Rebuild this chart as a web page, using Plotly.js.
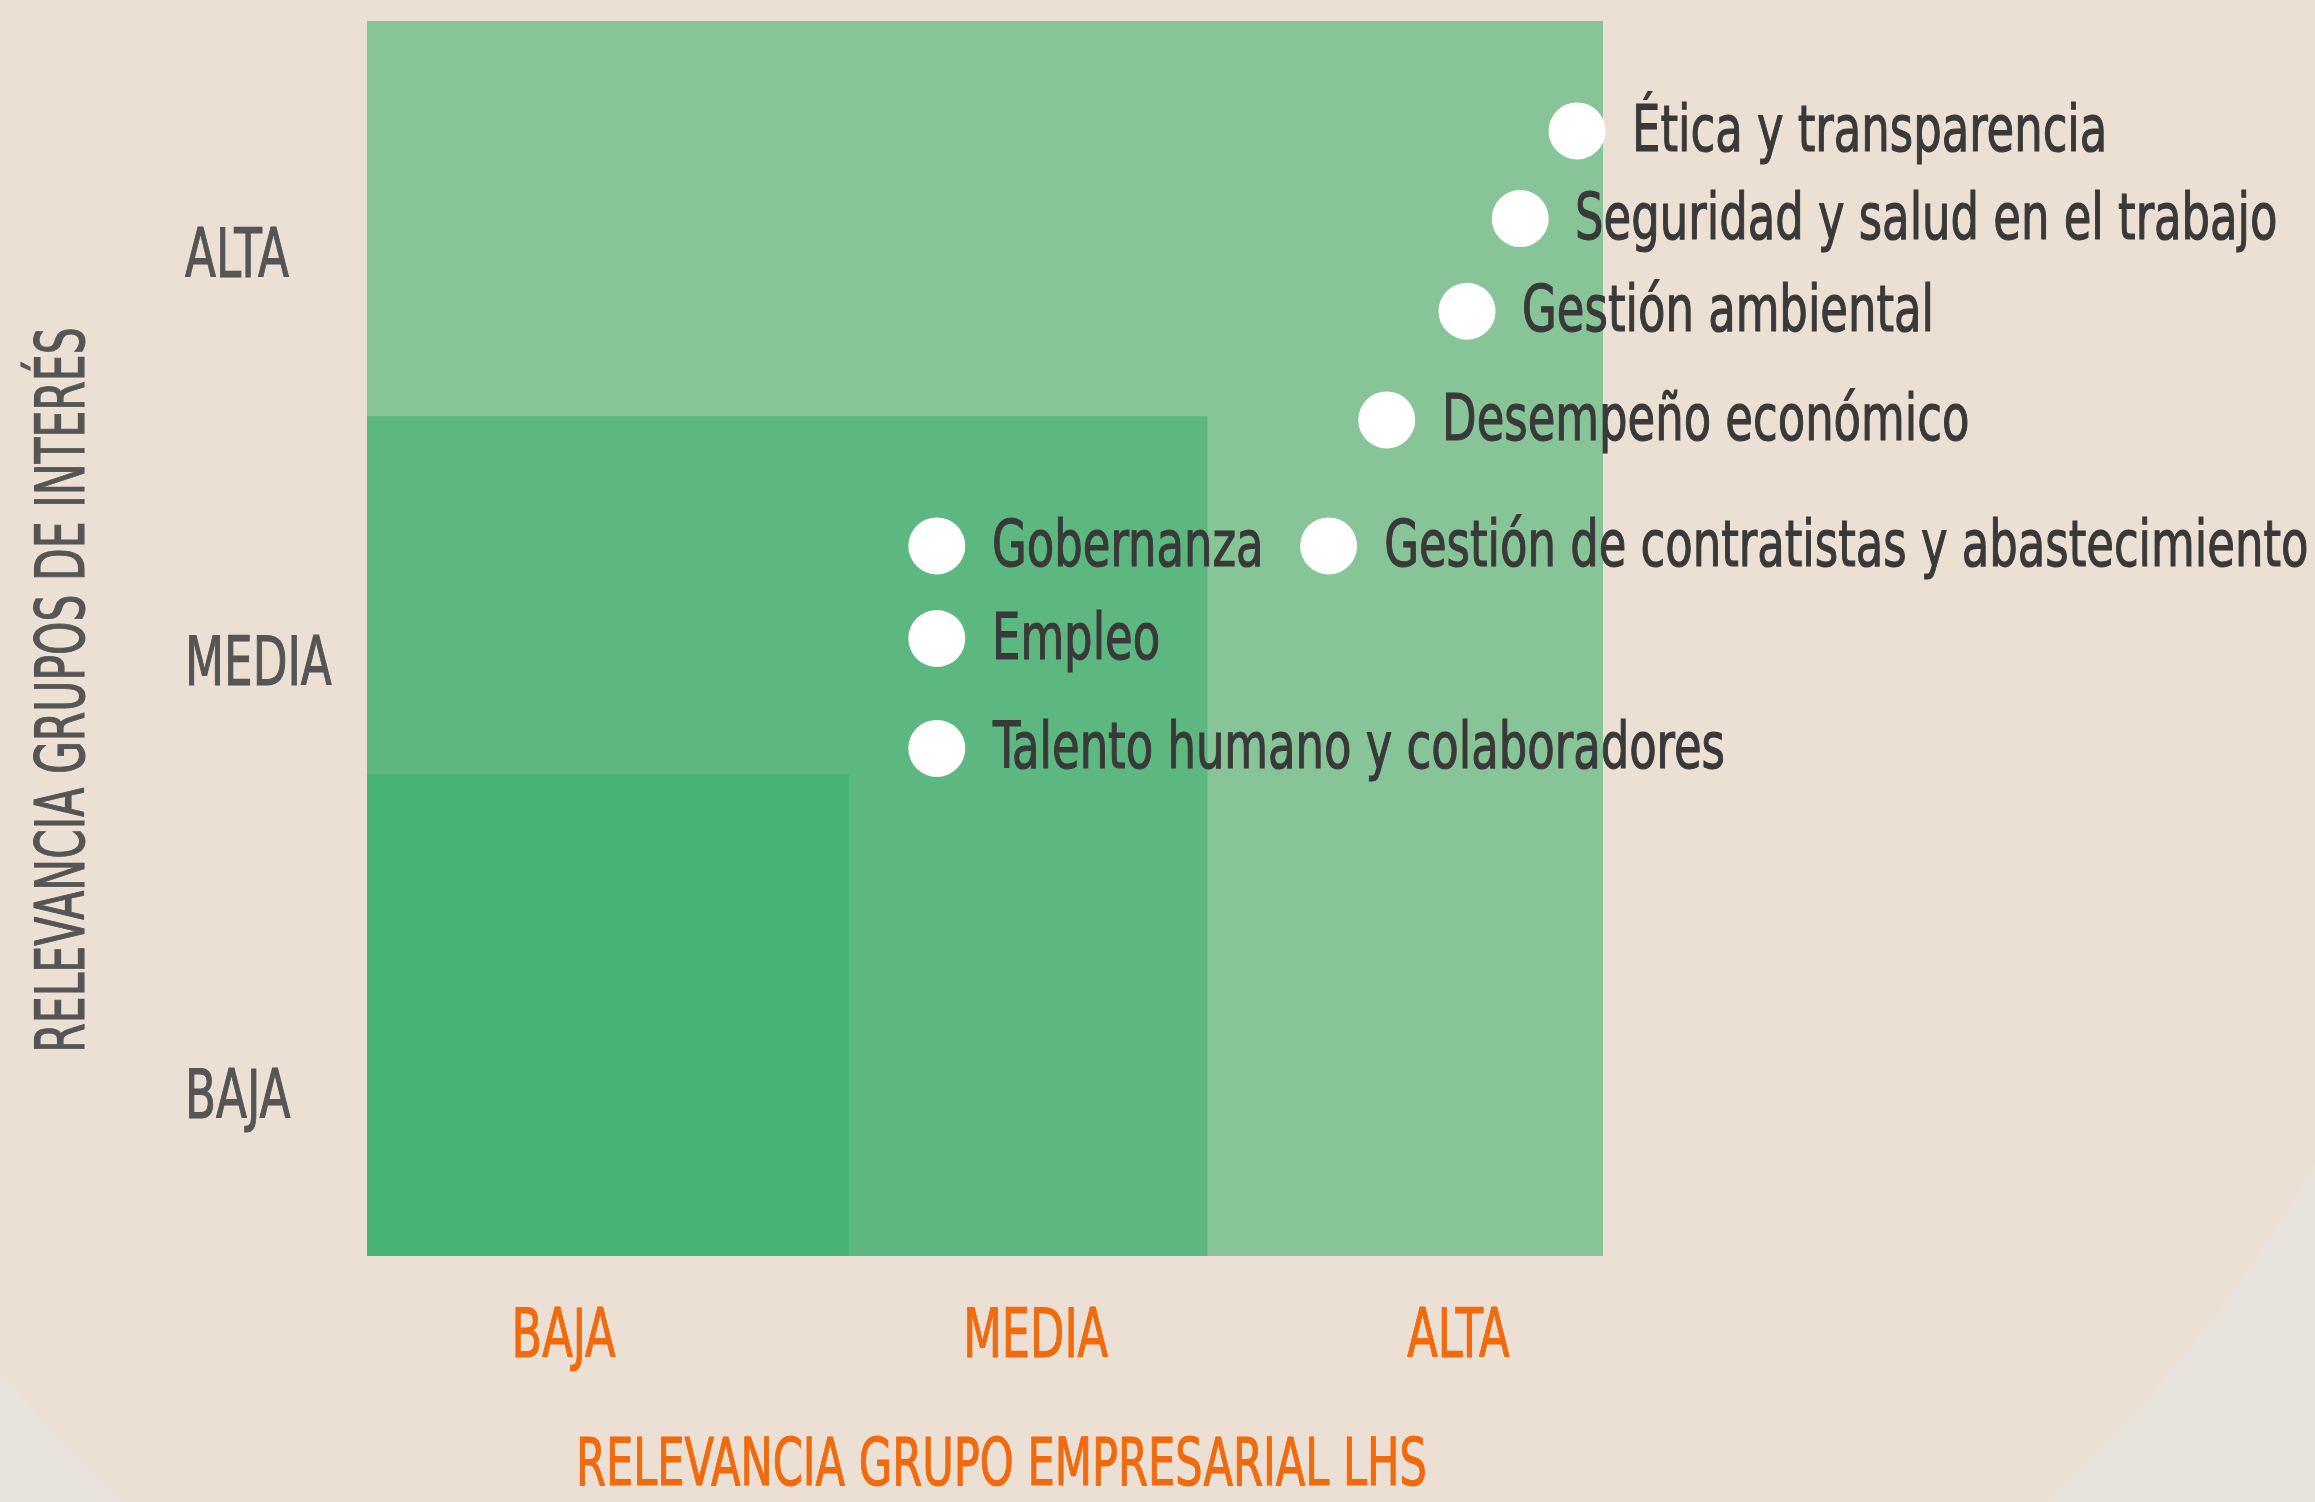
<!DOCTYPE html>
<html>
<head>
<meta charset="utf-8">
<script src="https://cdn.plot.ly/plotly-3.0.1.min.js"></script>
<style>
  html, body { margin: 0; padding: 0; background: #e8e2dd; }
  #chart { width: 2315px; height: 1502px; }
</style>
</head>
<body>
<div id="chart"></div>
<script>
// ---- data ----
const categories = [
  "Ética y transparencia",
  "Seguridad y salud en el trabajo",
  "Gestión ambiental",
  "Desempeño económico",
  "Gestión de contratistas y abastecimiento",
  "Gobernanza",
  "Empleo",
  "Talento humano y colaboradores"
];
const relevanciaEmpresa = [9.79, 9.33, 8.90, 8.25, 7.78, 4.61, 4.61, 4.61];
const relevanciaGrupos  = [9.11, 8.40, 7.65, 6.77, 5.75, 5.75, 5.00, 4.11];
const levelLabels = ["BAJA", "MEDIA", "ALTA"];
const xTickVals = [1.59, 5.41, 8.83];
const yTickVals = [1.31, 4.81, 8.12];
const zoneLimits = [10, 6.8, 3.9];
const xTitle = "RELEVANCIA GRUPO EMPRESARIAL LHS";
const yTitle = "RELEVANCIA GRUPOS DE INTERÉS";

// ---- style ----
const FONT = "'DejaVu Sans Condensed', 'DejaVu Sans', sans-serif";
const zoneColors = ["#87c498", "#5cb880", "#47b374"];
const ORANGE = "#f06a0e";
const GREY = "#555555";
const DARK = "#393939";
const W = 2315, H = 1502;

const shapes = [
  {type: "circle", xref: "paper", yref: "paper", layer: "below",
   x0: (1085 - 1416) / W, x1: (1085 + 1416) / W,
   y0: (H - 462 - 1416) / H, y1: (H - 462 + 1416) / H,
   fillcolor: "#ecdfd3", line: {width: 0}}
];
zoneLimits.forEach((lim, i) => {
  shapes.push({type: "rect", xref: "x", yref: "y", layer: "below",
    x0: 0, x1: lim, y0: 0, y1: lim, fillcolor: zoneColors[i], line: {width: 0}});
});

const annotations = [];
const condensed = []; // [annotation index, pivot, horizontal scale]
categories.forEach((c, i) => {
  condensed.push([annotations.length, "left", 0.78]);
  annotations.push({x: relevanciaEmpresa[i], y: relevanciaGrupos[i], xref: "x", yref: "y",
    text: c, showarrow: false, xanchor: "left", yanchor: "middle", xshift: 53, yshift: 2,
    font: {family: FONT, size: 64, color: DARK}});
});
levelLabels.forEach((t, i) => {
  condensed.push([annotations.length, "left", 0.74]);
  annotations.push({x: 183 / W, y: yTickVals[i], xref: "paper", yref: "y",
    text: t, showarrow: false, xanchor: "left", yanchor: "middle",
    font: {family: FONT, size: 68, color: GREY}});
});
condensed.push([annotations.length, "center", 0.727]);
annotations.push({x: 1001 / W, y: (H - 1462) / H, xref: "paper", yref: "paper",
  text: xTitle, showarrow: false, xanchor: "center", yanchor: "middle",
  font: {family: FONT, size: 66, color: ORANGE}});
condensed.push([annotations.length, "center", 0.695]);
annotations.push({x: 61 / W, y: (H - 690) / H, xref: "paper", yref: "paper",
  text: yTitle, showarrow: false, xanchor: "center", yanchor: "middle", textangle: -90,
  font: {family: FONT, size: 68, color: GREY}});

const trace = {
  type: "scatter", mode: "markers",
  x: relevanciaEmpresa, y: relevanciaGrupos, text: categories,
  marker: {size: 57, color: "#ffffff", line: {width: 0}},
  cliponaxis: false, hoverinfo: "text"
};

const layout = {
  width: W, height: H,
  margin: {l: 0, r: 0, t: 0, b: 0, pad: 0},
  paper_bgcolor: "#e8e2dd",
  plot_bgcolor: "rgba(0,0,0,0)",
  showlegend: false,
  xaxis: {domain: [367 / W, 1603 / W], range: [0, 10], showgrid: false, zeroline: false,
    showline: false, ticks: "", tickvals: xTickVals, ticktext: levelLabels,
    ticklabelstandoff: 32,
    tickfont: {family: FONT, size: 68, color: ORANGE}, fixedrange: true},
  yaxis: {domain: [(H - 1256) / H, (H - 21) / H], range: [0, 10], showgrid: false,
    zeroline: false, showline: false, showticklabels: false, ticks: "", fixedrange: true},
  shapes: shapes,
  annotations: annotations
};

function condense(el, s, pivot) {
  if (el.getAttribute("data-condensed")) return;
  el.setAttribute("data-condensed", "1");
  const bb = el.getBBox();
  const px = pivot === "left" ? bb.x : bb.x + bb.width / 2;
  const prev = el.getAttribute("transform") || "";
  el.setAttribute("transform", prev + " translate(" + px + ",0) scale(" + s + ",1) translate(" + (-px) + ",0)");
  // slightly heavier strokes, like the original condensed typeface
  const fill = el.style.fill || el.getAttribute("fill");
  if (fill) { el.style.stroke = fill; el.style.strokeWidth = "1.1px"; }
}

Plotly.newPlot("chart", [trace], layout, {staticPlot: true, displayModeBar: false}).then(() => {
  document.querySelectorAll("#chart .xtick text").forEach(el => condense(el, 0.73, "center"));
  condensed.forEach(([idx, pivot, s]) => {
    const g = document.querySelector('#chart g.annotation[data-index="' + idx + '"]');
    if (!g) return;
    const t = g.querySelector("text.annotation-text");
    if (t) condense(t, s, pivot);
  });
});
</script>
</body>
</html>
